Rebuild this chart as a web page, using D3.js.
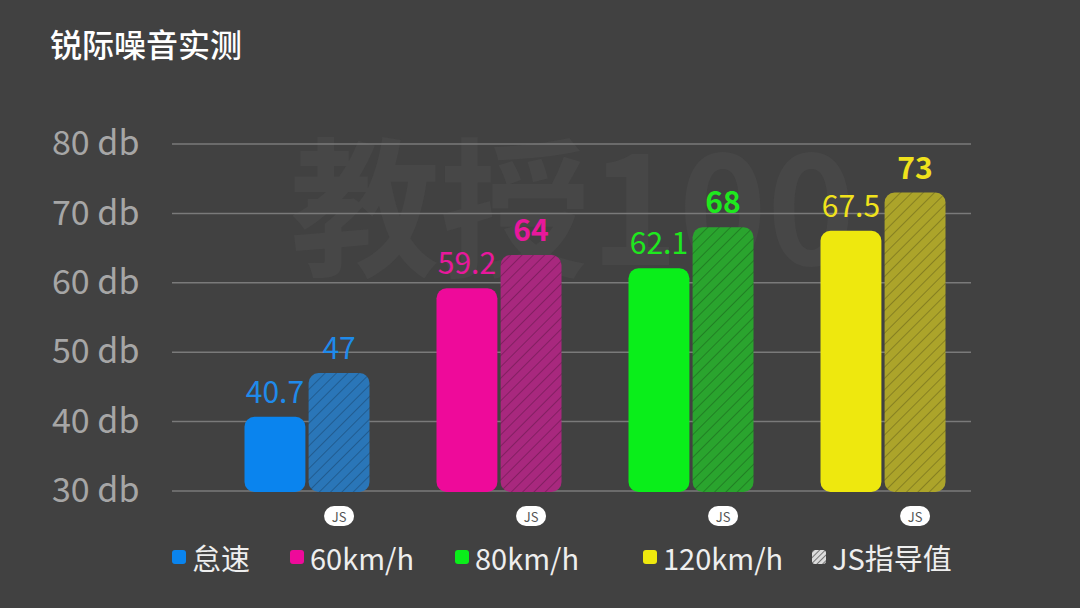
<!DOCTYPE html>
<html><head><meta charset="utf-8">
<script src="https://cdn.jsdelivr.net/npm/d3@7"></script>
<style>
body{margin:0;background:#414141;}
text{font-family:"Noto Sans CJK SC","Noto Sans",sans-serif;}
</style></head>
<body><svg id="chart" width="1080" height="608"></svg>
<script>
const categories = ["怠速", "60km/h", "80km/h", "120km/h"];
const measured = [40.7, 59.2, 62.1, 67.5];
const jsValues = [47, 64, 68, 73];
const yTicks = [30, 40, 50, 60, 70, 80];
const colors = ["#0a84ee", "#ee0a9a", "#0aee1a", "#eee80e"];
const jsColors = ["#2a76b8", "#a8287e", "#2aa42e", "#aca42a"];
const labelColors = ["#1f8aea", "#e8189c", "#1ee81e", "#f0e21c"];

const svg = d3.select("#chart");
svg.append("rect").attr("width", 1080).attr("height", 608).attr("fill", "#414141");

// faint watermark
svg.append("text").attr("x", 290).attr("y", 265).attr("font-size", 150).attr("font-weight", "bold")
  .attr("fill", "#474747").text("教授100");

svg.append("text").attr("x", 50).attr("y", 57).attr("font-size", 32).attr("font-weight", 500)
  .attr("fill", "#fff").text("锐际噪音实测");

const y = d3.scaleLinear().domain([30, 80]).range([491, 144]);
const x = d3.scaleBand().domain(categories).range([211, 979]);
const x1 = d3.scaleBand().domain(["m", "js"]).range([33.5, 158.5]).paddingInner(0.05);

const defs = svg.append("defs");
jsColors.forEach((c, i) => {
  const p = defs.append("pattern").attr("id", "hatch" + i).attr("patternUnits", "userSpaceOnUse")
    .attr("width", 8).attr("height", 8).attr("patternTransform", "rotate(45)");
  p.append("rect").attr("width", 8).attr("height", 8).attr("fill", c);
  p.append("line").attr("x1", 0).attr("y1", 0).attr("x2", 0).attr("y2", 8)
    .attr("stroke", "rgba(0,0,0,0.22)").attr("stroke-width", 2);
});

svg.append("g").selectAll("line").data(yTicks).enter().append("line")
  .attr("x1", 172).attr("x2", 971).attr("y1", d => y(d)).attr("y2", d => y(d))
  .attr("stroke", "#7a7a7a").attr("stroke-width", 1.5);
svg.append("g").selectAll("text").data(yTicks).enter().append("text")
  .attr("x", 52).attr("y", d => y(d) + 2).attr("dominant-baseline", "middle")
  .attr("font-size", 34).attr("fill", "#a6a6a6").text(d => d + " db");

const g = svg.append("g").selectAll("g").data(categories).enter().append("g")
  .attr("transform", d => `translate(${x(d)},0)`);

g.append("rect").attr("x", x1("m")).attr("width", x1.bandwidth())
  .attr("y", (d, i) => y(measured[i])).attr("height", (d, i) => y(30) - y(measured[i]) + 1)
  .attr("rx", 10).attr("fill", (d, i) => colors[i]);
g.append("rect").attr("x", x1("js")).attr("width", x1.bandwidth())
  .attr("y", (d, i) => y(jsValues[i])).attr("height", (d, i) => y(30) - y(jsValues[i]) + 1)
  .attr("rx", 10).attr("fill", (d, i) => `url(#hatch${i})`);

g.append("text").attr("x", x1("m") + x1.bandwidth() / 2).attr("y", (d, i) => y(measured[i]) - 14)
  .attr("text-anchor", "middle").attr("font-size", 30).attr("fill", (d, i) => labelColors[i])
  .text((d, i) => measured[i]);
g.append("text").attr("x", x1("js") + x1.bandwidth() / 2).attr("y", (d, i) => y(jsValues[i]) - 14)
  .attr("text-anchor", "middle").attr("font-size", 30)
  .attr("font-weight", (d, i) => i === 0 ? "normal" : "bold")
  .attr("fill", (d, i) => labelColors[i]).text((d, i) => jsValues[i]);

const badge = g.append("g").attr("transform", `translate(${x1("js") + x1.bandwidth() / 2},516)`);
badge.append("rect").attr("x", -15).attr("y", -10).attr("width", 30).attr("height", 20).attr("rx", 10).attr("fill", "#fff");
badge.append("text").attr("text-anchor", "middle").attr("dominant-baseline", "central")
  .attr("font-size", 13).attr("fill", "#555").text("JS");

const legendItems = categories.map((c, i) => ({ label: c, color: colors[i] }))
  .concat([{ label: "JS指导值", color: "hatch" }]);
const legendX = [172, 290, 455, 643, 812];
const lg = svg.append("g").selectAll("g").data(legendItems).enter().append("g")
  .attr("transform", (d, i) => `translate(${legendX[i]},557)`);
defs.append("pattern").attr("id", "lhatch").attr("patternUnits", "userSpaceOnUse")
  .attr("width", 4).attr("height", 4).attr("patternTransform", "rotate(45)")
  .call(p => { p.append("rect").attr("width", 4).attr("height", 4).attr("fill", "#ddd");
               p.append("line").attr("x1", 0).attr("y1", 0).attr("x2", 0).attr("y2", 4).attr("stroke", "#555").attr("stroke-width", 1.5); });
lg.append("rect").attr("x", 0).attr("y", -7).attr("width", 14).attr("height", 14).attr("rx", 3)
  .attr("fill", d => d.color === "hatch" ? "url(#lhatch)" : d.color);
lg.append("text").attr("x", 20).attr("dominant-baseline", "central").attr("font-size", 29)
  .attr("fill", "#eee").text(d => d.label);
</script></body></html>
